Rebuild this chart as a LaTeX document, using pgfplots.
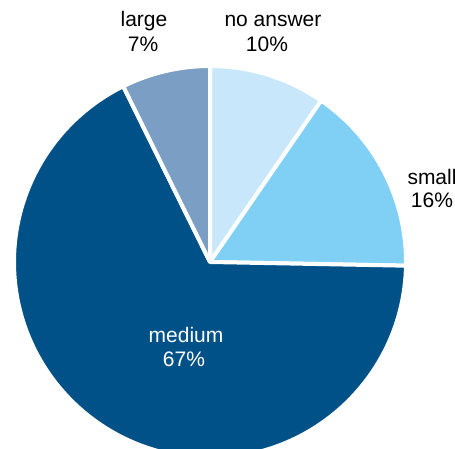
\documentclass[border=0pt]{standalone}
\usepackage{pgfplots}
\pgfplotsset{compat=1.18}
\usepackage{fontspec}
\setmainfont{Liberation Sans}
\definecolor{cNo}{RGB}{201,231,250}
\definecolor{cSm}{RGB}{128,207,244}
\definecolor{cMe}{RGB}{0,81,135}
\definecolor{cLa}{RGB}{122,158,196}
% pie shares (percent)
\def\vNo{9.6}
\def\vSm{15.7}
\def\vMe{67.4}
\def\vLa{7.3}
\pgfmathsetmacro{\aA}{90}
\pgfmathsetmacro{\aB}{\aA-3.6*\vNo}
\pgfmathsetmacro{\aC}{\aB-3.6*\vSm}
\pgfmathsetmacro{\aD}{\aC-3.6*\vMe}
\pgfmathsetmacro{\aE}{\aD-3.6*\vLa}
\begin{document}
\begin{tikzpicture}
\begin{axis}[
  x=1pt, y=1pt,
  xmin=0, xmax=455, ymin=0, ymax=449,
  enlargelimits=false,
  hide axis,
  clip=true,
]
\fill[cNo, draw=white, line width=4pt, line join=round] (axis cs:210,187) -- +(\aA:196pt) arc[start angle=\aA, end angle=\aB, radius=196pt] -- cycle;
\fill[cSm, draw=white, line width=4pt, line join=round] (axis cs:210,187) -- +(\aB:196pt) arc[start angle=\aB, end angle=\aC, radius=196pt] -- cycle;
\fill[cMe, draw=white, line width=4pt, line join=round] (axis cs:210,187) -- +(\aC:196pt) arc[start angle=\aC, end angle=\aD, radius=196pt] -- cycle;
\fill[cLa, draw=white, line width=4pt, line join=round] (axis cs:210,187) -- +(\aD:196pt) arc[start angle=\aD, end angle=\aE, radius=196pt] -- cycle;
\tikzset{lab/.style={anchor=base, inner sep=0pt, font=\fontsize{21}{24}\selectfont}}
\node[lab] at (axis cs:144,422) {large};
\node[lab] at (axis cs:143,397) {7\%};
\node[lab] at (axis cs:273,422) {no answer};
\node[lab] at (axis cs:267,397) {10\%};
\node[lab] at (axis cs:432,264) {small};
\node[lab] at (axis cs:432,241) {16\%};
\node[lab, text=white] at (axis cs:186,106) {medium};
\node[lab, text=white] at (axis cs:184,82) {67\%};
\end{axis}
\pgfresetboundingbox
\useasboundingbox (current axis.south west) rectangle (current axis.north east);
\end{tikzpicture}
\end{document}
